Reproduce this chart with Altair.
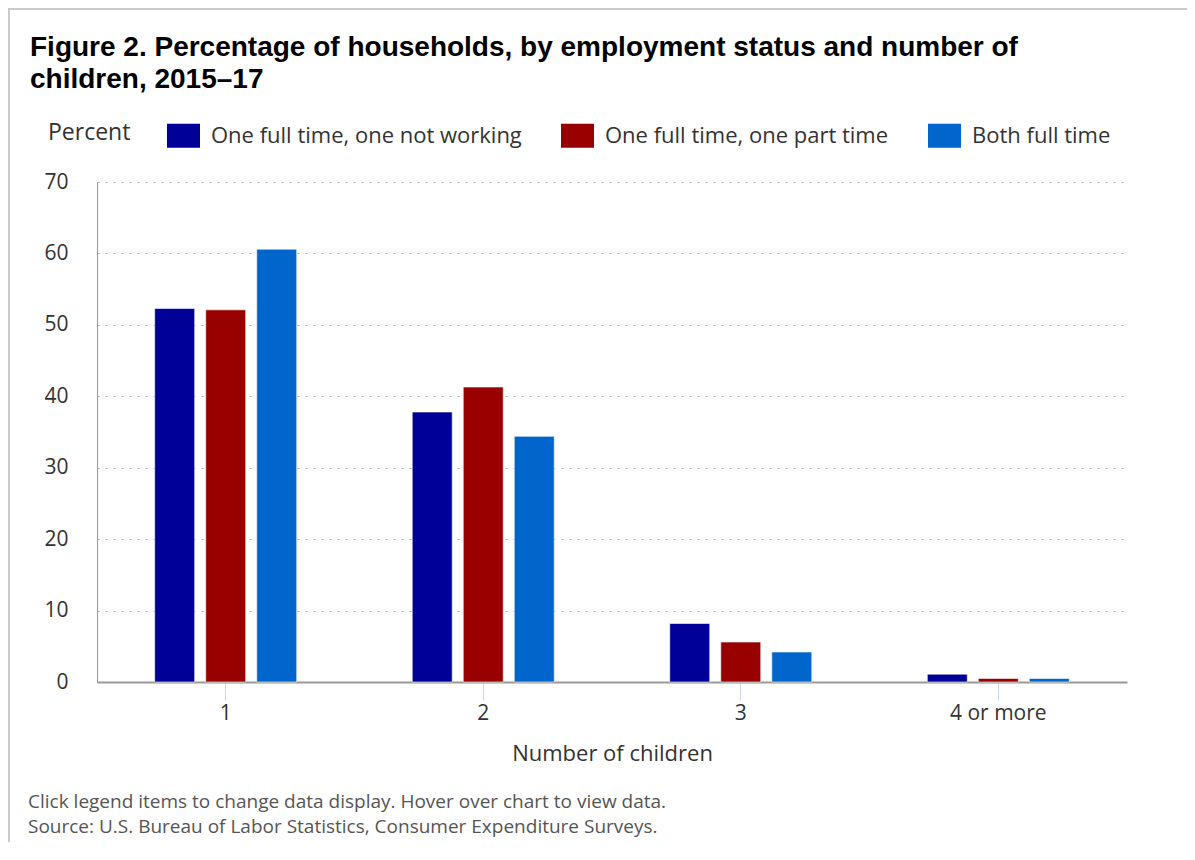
import altair as alt
import pandas as pd

categories = ["1", "2", "3", "4 or more"]
series = ["One full time, one not working", "One full time, one part time", "Both full time"]
not_working = [52.3, 37.8, 8.2, 1.1]
part_time = [52.1, 41.3, 5.6, 0.5]
both_full = [60.6, 34.4, 4.2, 0.5]
colors = ["#000099", "#990000", "#0066cc"]
title_lines = ["Figure 2. Percentage of households, by employment status and number of",
               "children, 2015\u201317"]
footer_lines = ["Click legend items to change data display. Hover over chart to view data.",
                "Source: U.S. Bureau of Labor Statistics, Consumer Expenditure Surveys."]

rows = []
for s, vals in zip(series, [not_working, part_time, both_full]):
    for c, v in zip(categories, vals):
        rows.append({"children": c, "status": s, "value": v})
df = pd.DataFrame(rows)

FONT = "Open Sans"

bars = alt.Chart(df).mark_bar(stroke="white", strokeWidth=1, strokeOpacity=0.6).encode(
    x=alt.X("children:N", sort=categories,
            scale=alt.Scale(paddingInner=0.4485, paddingOuter=0.224),
            axis=alt.Axis(title="Number of children", labelAngle=0, labelFontSize=21,
                          labelFont=FONT, labelColor="#333333", labelPadding=2,
                          titleFont=FONT, titleFontSize=22, titleFontWeight="normal",
                          titleColor="#333333", titlePadding=20,
                          domainColor="#999999", domainWidth=2,
                          tickColor="#ccd6eb", tickSize=18, tickWidth=1, grid=False)),
    xOffset=alt.XOffset("status:N", sort=series,
                        scale=alt.Scale(paddingInner=0.216, paddingOuter=0)),
    y=alt.Y("value:Q", scale=alt.Scale(domain=[0, 70]),
            axis=alt.Axis(title=None, values=[0, 10, 20, 30, 40, 50, 60, 70],
                          labelFontSize=21, labelFont=FONT, labelColor="#333333",
                          labelPadding=29, ticks=False, tickSize=0,
                          domainColor="#999999", domainWidth=1,
                          grid=True, gridColor="#aaaaaa", gridDash=[2, 6], gridWidth=1)),
    color=alt.Color("status:N", sort=series,
                    scale=alt.Scale(domain=series, range=colors),
                    legend=alt.Legend(title="Percent", orient="none", direction="horizontal",
                                      legendX=-49, legendY=-63, titleOrient="left",
                                      titleFont=FONT, titleFontSize=23, titleFontWeight="normal",
                                      titleColor="#333333", titlePadding=36,
                                      labelFont=FONT, labelFontSize=22, labelColor="#333333",
                                      labelLimit=500,
                                      labelOffset=11, columnPadding=39, padding=0,
                                      symbolType="M-1,-0.727H1V0.727H-1Z", symbolSize=1089,
                                      symbolStrokeWidth=0, symbolOpacity=1)),
)

frame_top = alt.Chart(pd.DataFrame({"k": [0]})).mark_rule(color="#cccccc", strokeWidth=2).encode(
    x=alt.value(-89), x2=alt.value(1090), y=alt.value(-173))
frame_left = alt.Chart(pd.DataFrame({"k": [0]})).mark_rule(color="#cccccc", strokeWidth=2).encode(
    x=alt.value(-88), y=alt.value(-174), y2=alt.value(670))

footer = alt.Chart(pd.DataFrame({"t": ["\n".join(footer_lines)]})).mark_text(
    align="left", baseline="alphabetic", font=FONT, fontSize=19, color="#555555",
    lineBreak="\n", lineHeight=25).encode(
    x=alt.value(-69), y=alt.value(626), text="t:N")

chart = alt.layer(frame_top, frame_left, bars, footer).properties(
    width=1030, height=500,
    background="white",
    title=alt.TitleParams(text=title_lines, anchor="start", frame="group", dx=-67,
                          offset=30, dy=117, font="Liberation Sans", fontSize=28,
                          fontWeight="bold", color="#000000", lineHeight=32),
    autosize=alt.AutoSizeParams(type="none"),
    padding={"left": 89, "top": 174, "right": 60, "bottom": 160},
).configure_view(stroke="transparent", strokeWidth=0)

chart.save("out.html", embed_options={"renderer": "svg", "actions": False})
